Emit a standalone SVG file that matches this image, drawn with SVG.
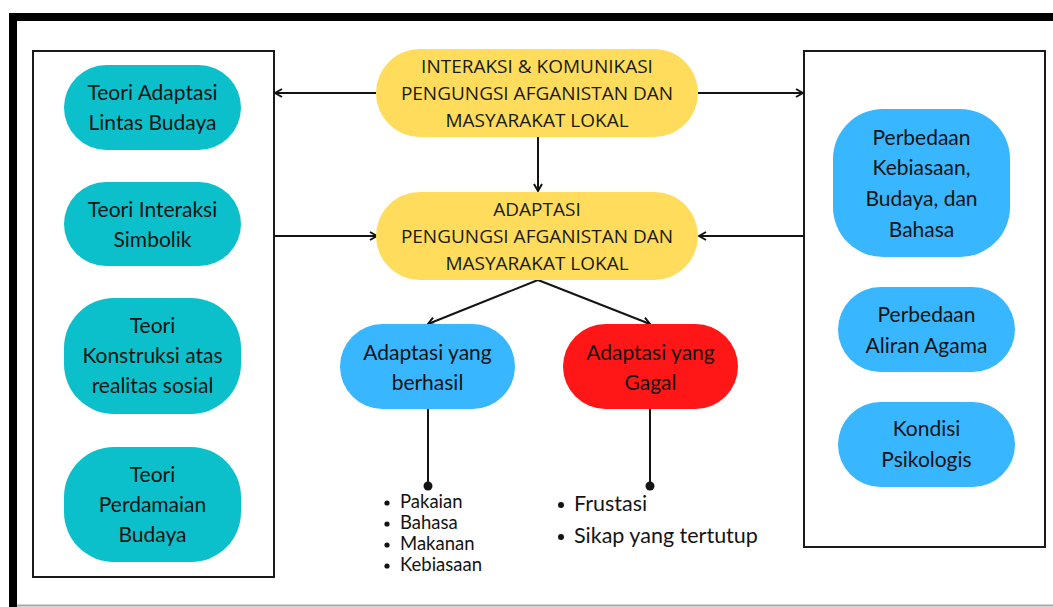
<svg xmlns="http://www.w3.org/2000/svg" width="1053" height="607" viewBox="0 0 1053 607">
  <style>
    .frame { fill: #000; }
    .panel { fill: #fff; stroke: #1a1a1a; stroke-width: 2; }
    .teal { fill: #0cc0cb; }
    .blue { fill: #38b6ff; }
    .red { fill: #ff1616; }
    .yellow { fill: #ffdc5c; }
    .lbl { font-family: Lato, "Noto Sans", sans-serif; font-size: 21px; fill: #141414; text-anchor: middle; }
    .cap { font-family: "Open Sans", "Noto Sans", sans-serif; font-size: 19px; fill: #1a1a1a; text-anchor: middle; }
    .item { font-family: Lato, "Noto Sans", sans-serif; fill: #141414; }
    .conn { fill: none; stroke: #141414; stroke-width: 2; }
    .dot { fill: #141414; }
  </style>
  <defs>
    <marker id="arrow" viewBox="0 0 10 10" refX="9" refY="5" markerWidth="10" markerHeight="10" markerUnits="userSpaceOnUse" orient="auto">
      <path d="M2,1 L9,5 L2,9" fill="none" stroke="#141414" stroke-width="2"/>
    </marker>
  </defs>

  <rect width="1053" height="607" fill="#fff"/>

  <!-- page frame -->
  <g id="frame">
    <rect class="frame" x="9" y="13" width="1044" height="8"/>
    <rect class="frame" x="9" y="13" width="8" height="594"/>
    <line x1="17" y1="605.5" x2="1053" y2="605.5" stroke="#a8a8a8" stroke-width="2"/>
  </g>

  <!-- side panels -->
  <g id="panel-theories">
    <rect class="panel" x="33" y="51" width="241" height="526"/>
  </g>
  <g id="panel-factors">
    <rect class="panel" x="804" y="51" width="241" height="496"/>
  </g>

  <!-- connectors -->
  <g id="connectors">
    <line class="conn" x1="376" y1="93" x2="275" y2="93" marker-end="url(#arrow)"/>
    <line class="conn" x1="698" y1="93" x2="803" y2="93" marker-end="url(#arrow)"/>
    <line class="conn" x1="538" y1="137" x2="538" y2="191" marker-end="url(#arrow)"/>
    <line class="conn" x1="275" y1="236" x2="377" y2="236" marker-end="url(#arrow)"/>
    <line class="conn" x1="803" y1="236" x2="699" y2="236" marker-end="url(#arrow)"/>
    <line class="conn" x1="538" y1="280" x2="428" y2="324" marker-end="url(#arrow)"/>
    <line class="conn" x1="538" y1="280" x2="650" y2="324" marker-end="url(#arrow)"/>
    <line class="conn" x1="428" y1="409" x2="428" y2="486"/>
    <circle class="dot" cx="428" cy="486" r="4.5"/>
    <line class="conn" x1="650" y1="409" x2="650" y2="486"/>
    <circle class="dot" cx="650" cy="486" r="4.5"/>
  </g>

  <!-- left panel nodes -->
  <g id="teori-adaptasi">
    <rect class="teal" x="64" y="65" width="177" height="85" rx="42.5"/>
    <text class="lbl" x="152.5" y="100">Teori Adaptasi</text>
    <text class="lbl" x="152.5" y="130">Lintas Budaya</text>
  </g>
  <g id="teori-interaksi">
    <rect class="teal" x="64" y="182" width="177" height="84" rx="42"/>
    <text class="lbl" x="152.5" y="217">Teori Interaksi</text>
    <text class="lbl" x="152.5" y="247">Simbolik</text>
  </g>
  <g id="teori-konstruksi">
    <rect class="teal" x="64" y="298" width="177" height="116" rx="50"/>
    <text class="lbl" x="152.5" y="333">Teori</text>
    <text class="lbl" x="152.5" y="363">Konstruksi atas</text>
    <text class="lbl" x="152.5" y="393">realitas sosial</text>
  </g>
  <g id="teori-perdamaian">
    <rect class="teal" x="64" y="447" width="177" height="115" rx="50"/>
    <text class="lbl" x="152.5" y="482">Teori</text>
    <text class="lbl" x="152.5" y="512">Perdamaian</text>
    <text class="lbl" x="152.5" y="542">Budaya</text>
  </g>

  <!-- central nodes -->
  <g id="interaksi">
    <rect class="yellow" x="376" y="49" width="322" height="88" rx="44"/>
    <text class="cap" x="537" y="73">INTERAKSI &amp; KOMUNIKASI</text>
    <text class="cap" x="537" y="100">PENGUNGSI AFGANISTAN DAN</text>
    <text class="cap" x="537" y="127">MASYARAKAT LOKAL</text>
  </g>
  <g id="adaptasi">
    <rect class="yellow" x="376" y="192" width="322" height="88" rx="44"/>
    <text class="cap" x="537" y="216">ADAPTASI</text>
    <text class="cap" x="537" y="243">PENGUNGSI AFGANISTAN DAN</text>
    <text class="cap" x="537" y="270">MASYARAKAT LOKAL</text>
  </g>
  <g id="adaptasi-berhasil">
    <rect class="blue" x="340" y="324" width="175" height="85" rx="42.5"/>
    <text class="lbl" x="427.5" y="360">Adaptasi yang</text>
    <text class="lbl" x="427.5" y="390">berhasil</text>
  </g>
  <g id="adaptasi-gagal">
    <rect class="red" x="563" y="324" width="175" height="85" rx="42.5"/>
    <text class="lbl" x="650.5" y="360">Adaptasi yang</text>
    <text class="lbl" x="650.5" y="390">Gagal</text>
  </g>

  <!-- outcome lists -->
  <g id="list-berhasil" class="item" font-size="18.5">
    <circle class="dot" cx="387" cy="503" r="2.6"/>
    <text x="400" y="508">Pakaian</text>
    <circle class="dot" cx="387" cy="524" r="2.6"/>
    <text x="400" y="529">Bahasa</text>
    <circle class="dot" cx="387" cy="545" r="2.6"/>
    <text x="400" y="550">Makanan</text>
    <circle class="dot" cx="387" cy="566" r="2.6"/>
    <text x="400" y="571">Kebiasaan</text>
  </g>
  <g id="list-gagal" class="item" font-size="21.5">
    <circle class="dot" cx="561" cy="505" r="3"/>
    <text x="574" y="511">Frustasi</text>
    <circle class="dot" cx="561" cy="537" r="3"/>
    <text x="574" y="543">Sikap yang tertutup</text>
  </g>

  <!-- right panel nodes -->
  <g id="perbedaan-kebiasaan">
    <rect class="blue" x="833" y="109" width="177" height="148" rx="50"/>
    <text class="lbl" x="921.5" y="145">Perbedaan</text>
    <text class="lbl" x="921.5" y="175">Kebiasaan,</text>
    <text class="lbl" x="921.5" y="206">Budaya, dan</text>
    <text class="lbl" x="921.5" y="237">Bahasa</text>
  </g>
  <g id="perbedaan-agama">
    <rect class="blue" x="838" y="287" width="177" height="85" rx="42.5"/>
    <text class="lbl" x="926.5" y="322">Perbedaan</text>
    <text class="lbl" x="926.5" y="353">Aliran Agama</text>
  </g>
  <g id="kondisi-psikologis">
    <rect class="blue" x="838" y="402" width="177" height="85" rx="42.5"/>
    <text class="lbl" x="926.5" y="436">Kondisi</text>
    <text class="lbl" x="926.5" y="467">Psikologis</text>
  </g>
</svg>
